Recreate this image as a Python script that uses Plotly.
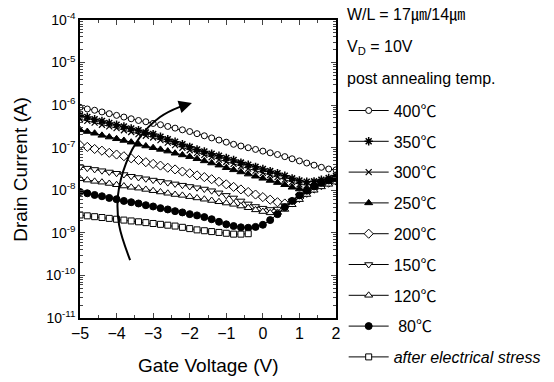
import plotly.graph_objects as go

# Gate voltage (V)
vg = [-5.0, -4.8, -4.6, -4.4, -4.2, -4.0, -3.8, -3.6, -3.4, -3.2, -3.0, -2.8,
      -2.6, -2.4, -2.2, -2.0, -1.8, -1.6, -1.4, -1.2, -1.0, -0.8, -0.6, -0.4,
      -0.2, 0.0, 0.2, 0.4, 0.6, 0.8, 1.0, 1.2, 1.4, 1.6, 1.8, 2.0]

# log10 of drain current (A)
log_400 = [-6.05, -6.09, -6.12, -6.16, -6.20, -6.24, -6.28, -6.32, -6.36, -6.39, -6.43, -6.46,
           -6.50, -6.54, -6.58, -6.62, -6.67, -6.72, -6.77, -6.82, -6.87, -6.92, -6.96, -7.00,
           -7.04, -7.08, -7.12, -7.16, -7.21, -7.26, -7.31, -7.36, -7.41, -7.46, -7.50, -7.52]
log_350 = [-6.24, -6.28, -6.33, -6.37, -6.42, -6.46, -6.50, -6.55, -6.59, -6.64, -6.68, -6.74,
           -6.80, -6.86, -6.92, -6.98, -7.04, -7.09, -7.14, -7.19, -7.24, -7.29, -7.35, -7.40,
           -7.45, -7.50, -7.55, -7.60, -7.66, -7.72, -7.77, -7.80, -7.79, -7.75, -7.71, -7.66]
log_300 = [-6.33, -6.37, -6.41, -6.46, -6.50, -6.54, -6.59, -6.63, -6.68, -6.72, -6.76, -6.82,
           -6.88, -6.94, -7.00, -7.06, -7.12, -7.17, -7.22, -7.28, -7.33, -7.38, -7.44, -7.49,
           -7.54, -7.59, -7.64, -7.69, -7.75, -7.81, -7.86, -7.88, -7.85, -7.80, -7.75, -7.70]
log_250 = [-6.58, -6.62, -6.66, -6.71, -6.75, -6.79, -6.83, -6.87, -6.92, -6.96, -7.00, -7.04,
           -7.08, -7.13, -7.17, -7.21, -7.26, -7.31, -7.36, -7.41, -7.47, -7.52, -7.57, -7.62,
           -7.67, -7.72, -7.77, -7.82, -7.87, -7.93, -7.97, -7.98, -7.93, -7.85, -7.78, -7.72]
log_200 = [-6.94, -6.98, -7.03, -7.07, -7.12, -7.16, -7.20, -7.25, -7.29, -7.34, -7.38, -7.42,
           -7.47, -7.51, -7.56, -7.60, -7.65, -7.69, -7.74, -7.80, -7.86, -7.92, -7.98, -8.04,
           -8.10, -8.16, -8.22, -8.28, -8.31, -8.28, -8.18, -8.06, -7.96, -7.88, -7.82, -7.77]
log_150 = [-7.45, -7.48, -7.51, -7.54, -7.57, -7.60, -7.63, -7.67, -7.70, -7.73, -7.76, -7.79,
           -7.82, -7.85, -7.88, -7.91, -7.94, -7.97, -8.01, -8.06, -8.12, -8.18, -8.25, -8.32,
           -8.38, -8.42, -8.45, -8.44, -8.36, -8.25, -8.13, -8.02, -7.93, -7.86, -7.81, -7.77]
log_120 = [-7.73, -7.76, -7.79, -7.81, -7.84, -7.87, -7.90, -7.93, -7.95, -7.98, -8.01, -8.04,
           -8.07, -8.10, -8.12, -8.15, -8.18, -8.21, -8.24, -8.27, -8.30, -8.33, -8.37, -8.41,
           -8.46, -8.50, -8.53, -8.52, -8.45, -8.34, -8.22, -8.10, -8.00, -7.92, -7.86, -7.81]
log_80 = [-8.04, -8.07, -8.11, -8.14, -8.18, -8.21, -8.25, -8.28, -8.31, -8.35, -8.38, -8.42,
          -8.45, -8.49, -8.52, -8.56, -8.59, -8.63, -8.68, -8.74, -8.80, -8.84, -8.87, -8.88,
          -8.86, -8.81, -8.70, -8.56, -8.40, -8.25, -8.12, -8.01, -7.91, -7.83, -7.77, -7.72]
log_stress = [-8.58, -8.60, -8.62, -8.64, -8.66, -8.68, -8.70, -8.72, -8.74, -8.76, -8.78, -8.80,
              -8.82, -8.84, -8.87, -8.90, -8.93, -8.95, -8.97, -8.99, -9.01, -9.03, -9.03, -9.02,
              None, None, None, None, None, None, None, None, None, None, None, None]

legend_names = ["400℃", "350℃", "300℃", "250℃", "200℃", "150℃", "120℃", " 80℃",
                "<i>after electrical stress</i>"]

# curved arrow (gate voltage, log10 current)
arrow_x = [-3.63, -3.93, -3.96, -3.74, -3.36, -2.81, -2.27, -2.02]
arrow_y = [-9.64, -8.82, -8.11, -7.36, -6.75, -6.28, -6.04, -5.98]

FONT = "Liberation Sans, Arial, Noto Sans CJK SC, DejaVu Sans"

styles = [
    dict(symbol="circle", color="white", size=6, line=dict(color="black", width=1)),
    dict(symbol="asterisk-open", color="black", size=7, line=dict(color="black", width=1.5)),
    dict(symbol="x-thin-open", color="black", size=6, line=dict(color="black", width=1.2)),
    dict(symbol="triangle-up", color="black", size=7, line=dict(color="black", width=1)),
    dict(symbol="diamond", color="white", size=7, line=dict(color="black", width=1)),
    dict(symbol="triangle-down", color="white", size=7, line=dict(color="black", width=1)),
    dict(symbol="triangle-up", color="white", size=7, line=dict(color="black", width=1)),
    dict(symbol="circle", color="black", size=7, line=dict(color="black", width=1)),
    dict(symbol="square", color="white", size=6, line=dict(color="black", width=1)),
]
series = [log_400, log_350, log_300, log_250, log_200, log_150, log_120, log_80, log_stress]

fig = go.Figure()
for i, (name, vals, mk) in enumerate(zip(legend_names, series, styles)):
    fig.add_trace(go.Scatter(
        x=vg, y=[None if v is None else 10 ** v for v in vals],
        mode="lines+markers", name=name, legendgroup=f"g{i}",
        line=dict(color="black", width=1), marker=mk,
    ))

fig.add_trace(go.Scatter(
    x=arrow_x, y=[10 ** v for v in arrow_y], mode="lines",
    line=dict(color="black", width=2, shape="spline"), showlegend=False,
    hoverinfo="skip",
))

decades = list(range(-11, -3))
minor_vals = [k * 10.0 ** e for e in range(-11, -4) for k in range(2, 10)]

fig.update_xaxes(
    range=[-5, 2], dtick=1, ticks="inside", ticklen=5, tickwidth=1,
    showline=True, linecolor="black", linewidth=1.5, mirror="ticks",
    showgrid=False, zeroline=False,
    tickfont=dict(family=FONT, size=16, color="black"),
    minor=dict(dtick=0.5, ticks="inside", ticklen=3, showgrid=False),
)
fig.update_yaxes(
    type="log", range=[-11, -4], tickmode="array",
    tickvals=[10.0 ** d for d in decades],
    ticktext=[f"10<sup>{d}</sup>" for d in decades],
    ticks="inside", ticklen=5, tickwidth=1,
    showline=True, linecolor="black", linewidth=1.5, mirror="ticks",
    showgrid=False, zeroline=False,
    tickfont=dict(family=FONT, size=14, color="black"),
    minor=dict(tickmode="array", tickvals=minor_vals, ticks="inside", ticklen=3, showgrid=False),
)

ann = [
    dict(x=-1.94, y=-5.95, ax=-2.2, ay=-6.02, xref="x", yref="y", axref="x", ayref="y",
         showarrow=True, arrowhead=2, arrowsize=1.3, arrowwidth=2, arrowcolor="black", text=""),
    dict(x=0.5, y=-0.16, xref="paper", yref="paper", text="Gate Voltage (V)", showarrow=False,
         font=dict(family=FONT, size=19, color="black"), xanchor="center", yanchor="middle"),
    dict(x=-0.235, y=0.5, xref="paper", yref="paper", text="Drain Current (A)", showarrow=False,
         textangle=-90, font=dict(family=FONT, size=19, color="black"),
         xanchor="center", yanchor="middle"),
    dict(x=1.035, y=1.017, xref="paper", yref="paper", text="W/L = 17㎛/14㎛", showarrow=False,
         font=dict(family=FONT, size=16, color="black"), xanchor="left", yanchor="middle"),
    dict(x=1.035, y=0.909, xref="paper", yref="paper", text="V<sub>D</sub> = 10V", showarrow=False,
         font=dict(family=FONT, size=16, color="black"), xanchor="left", yanchor="middle"),
    dict(x=1.035, y=0.805, xref="paper", yref="paper", text="post annealing temp.", showarrow=False,
         font=dict(family=FONT, size=16, color="black"), xanchor="left", yanchor="middle"),
]

fig.update_layout(
    width=554, height=382,
    margin=dict(l=80, r=218, t=20, b=64, autoexpand=False),
    paper_bgcolor="white", plot_bgcolor="white",
    showlegend=True,
    legend=dict(x=1.03, y=0.753, xanchor="left", yanchor="top",
                font=dict(family=FONT, size=16, color="black"),
                tracegroupgap=7, itemwidth=40, bgcolor="rgba(0,0,0,0)",
                maxheight=400),
    annotations=ann,
)

fig.write_html("out.html")
